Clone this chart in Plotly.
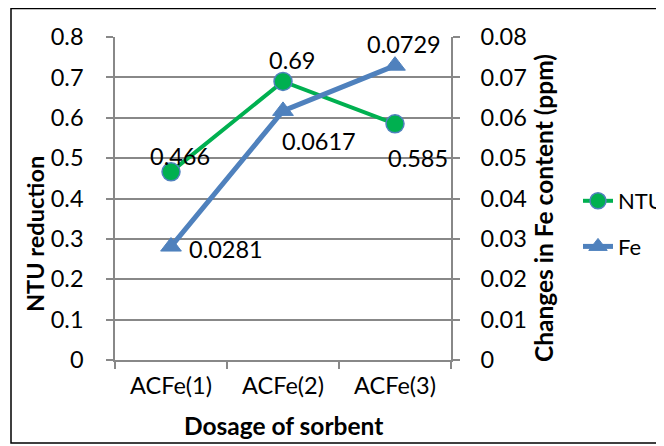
import plotly.graph_objects as go

categories = ["ACFe(1)", "ACFe(2)", "ACFe(3)"]
ntu = [0.466, 0.69, 0.585]
fe = [0.0281, 0.0617, 0.0729]
ntu_labels = ["0.466", "0.69", "0.585"]
fe_labels = ["0.0281", "0.0617", "0.0729"]
left_ticks = [0, 0.1, 0.2, 0.3, 0.4, 0.5, 0.6, 0.7, 0.8]
left_ticktext = ["0", "0.1", "0.2", "0.3", "0.4", "0.5", "0.6", "0.7", "0.8"]
right_ticks = [0, 0.01, 0.02, 0.03, 0.04, 0.05, 0.06, 0.07, 0.08]
right_ticktext = ["0", "0.01", "0.02", "0.03", "0.04", "0.05", "0.06", "0.07", "0.08"]

FONT = "Lato, Calibri, Carlito, sans-serif"
GREEN = "#00B050"
BLUE = "#4F81BD"
GRID = "#888888"
TS = 23.5

fig = go.Figure()
fig.add_trace(go.Scatter(
    x=categories, y=ntu, name="NTU", mode="lines+markers", legendgroup="a",
    line=dict(color=GREEN, width=4),
    marker=dict(symbol="circle", size=18, color=GREEN, line=dict(color=BLUE, width=1.5)),
    yaxis="y",
))
fig.add_trace(go.Scatter(
    x=categories, y=fe, name="Fe", mode="lines+markers", legendgroup="b",
    line=dict(color=BLUE, width=5),
    marker=dict(symbol="triangle-up", size=18, color=BLUE, line=dict(color=BLUE, width=1)),
    yaxis="y2",
))

ntu_shift = [(9, 16), (9, 21), (23, -34)]
fe_shift = [(55, -2), (36, -30), (9, 22)]
for c, v, t, (dx, dy) in zip(categories, ntu, ntu_labels, ntu_shift):
    fig.add_annotation(x=c, y=v, xref="x", yref="y", text=t, showarrow=False,
                       xshift=dx, yshift=dy, font=dict(family=FONT, size=TS, color="black"))
for c, v, t, (dx, dy) in zip(categories, fe, fe_labels, fe_shift):
    fig.add_annotation(x=c, y=v, xref="x", yref="y2", text=t, showarrow=False,
                       xshift=dx, yshift=dy, font=dict(family=FONT, size=TS, color="black"))

# page body margin: figure is drawn at (8, 8) in the window
OX, OY = 8, 8
W, H = 656, 438
L, T, R, B = 115 - OX, 37 - OY, 213, 86
pw, ph = W - L - R, H - T - B


def px(x):
    return (x - OX - L) / pw


def py(y):
    return 1 - (y - OY - T) / ph


title_font = dict(family=FONT, color="black")
fig.add_annotation(x=px(35), y=py(234), xref="paper", yref="paper", text="<b>NTU reduction</b>",
                   xanchor="center", yanchor="middle",
                   textangle=-90, showarrow=False, font=dict(size=23.5, **title_font))
fig.add_annotation(x=px(543), y=py(208), xref="paper", yref="paper",
                   text="<b>Changes in Fe content (ppm)</b>", xanchor="center", yanchor="middle",
                   textangle=-90, showarrow=False, font=dict(size=24.5, **title_font))
fig.add_annotation(x=px(283), y=py(425), xref="paper", yref="paper", text="<b>Dosage of sorbent</b>",
                   xanchor="center", yanchor="middle",
                   showarrow=False, font=dict(size=24.5, **title_font))

fig.update_layout(
    width=W, height=H,
    margin=dict(l=L, r=R, t=T, b=B, autoexpand=False),
    paper_bgcolor="white", plot_bgcolor="white",
    font=dict(family=FONT, size=TS, color="black"),
    showlegend=True,
    legend=dict(x=px(578), y=py(224), xanchor="left", yanchor="middle",
                font=dict(family=FONT, size=22, color="black"),
                tracegroupgap=14, itemwidth=30, bgcolor="rgba(0,0,0,0)"),
    xaxis=dict(
        type="category", range=[-0.5, 2.5], tickson="boundaries",
        showgrid=False, showline=True, linecolor=GRID, linewidth=1.5,
        ticks="outside", ticklen=7, tickcolor=GRID, tickwidth=1.5,
        ticklabelstandoff=4,
        tickfont=dict(family=FONT, size=TS),
        zeroline=False, automargin=False,
    ),
    yaxis=dict(
        range=[0, 0.8], tickvals=left_ticks, ticktext=left_ticktext,
        showgrid=True, gridcolor=GRID, gridwidth=1.5,
        showline=True, linecolor=GRID, linewidth=1.5,
        ticks="outside", ticklen=7, tickcolor=GRID, tickwidth=1.5,
        ticklabelstandoff=18,
        tickfont=dict(family=FONT, size=TS),
        zeroline=False, automargin=False,
    ),
    yaxis2=dict(
        range=[0, 0.08], tickvals=right_ticks, ticktext=right_ticktext,
        overlaying="y", side="right", showgrid=False,
        showline=True, linecolor=GRID, linewidth=1.5,
        ticks="outside", ticklen=7, tickcolor=GRID, tickwidth=1.5,
        ticklabelstandoff=16,
        tickfont=dict(family=FONT, size=TS),
        zeroline=False, automargin=False,
    ),
    shapes=[dict(type="rect", xref="paper", yref="paper",
                 x0=px(11), x1=px(662), y0=py(443), y1=py(8.5),
                 line=dict(color="black", width=1.5), fillcolor="rgba(0,0,0,0)", layer="below")],
)

fig.write_html("out.html")
